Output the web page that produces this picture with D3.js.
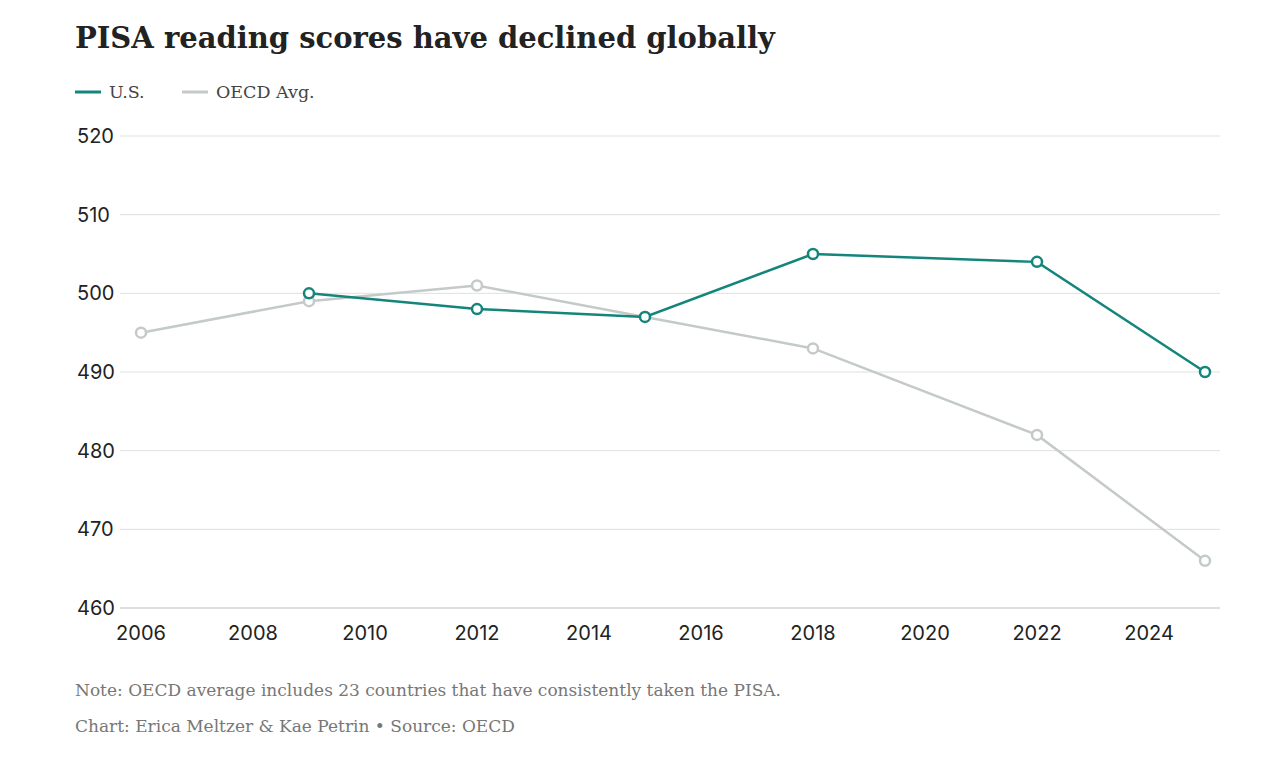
<!DOCTYPE html>
<html><head><meta charset="utf-8">
<script src="https://cdn.jsdelivr.net/npm/d3@7"></script>
<style>body{margin:0;background:#fff}</style></head>
<body><svg id="c" width="1280" height="760"></svg>
<script>
const usYears=[2009,2012,2015,2018,2022,2025];
const usValues=[500,498,497,505,504,490];
const oecdYears=[2006,2009,2012,2015,2018,2022,2025];
const oecdValues=[495,499,501,497,493,482,466];
const xTicks=[2006,2008,2010,2012,2014,2016,2018,2020,2022,2024];
const yTicks=[460,470,480,490,500,510,520];
const teal="#14857b", grey="#c4cac8";
const svg=d3.select("#c");
const x=d3.scaleLinear().domain([2006,2025]).range([141,1205]);
const y=d3.scaleLinear().domain([460,520]).range([608,136]);
const serif="'DejaVu Serif',serif", sans="Inter,Lato,sans-serif";
svg.append("text").attr("x",75).attr("y",48).attr("font-family",serif).attr("font-weight","bold").attr("font-size",29).attr("fill","#222").text("PISA reading scores have declined globally");
const lg=[["U.S.",teal,75],["OECD Avg.",grey,182]];
lg.forEach(([t,c,lx])=>{svg.append("line").attr("x1",lx).attr("x2",lx+26).attr("y1",92).attr("y2",92).attr("stroke",c).attr("stroke-width",3);
svg.append("text").attr("x",lx+34).attr("y",98).attr("font-family",serif).attr("font-size",17.5).attr("fill","#444").text(t);});
yTicks.forEach(v=>{
 svg.append("line").attr("x1",120).attr("x2",1220).attr("y1",y(v)).attr("y2",y(v)).attr("stroke",v===460?"#bbb":"#e0e0e0").attr("stroke-width",1);
 svg.append("text").attr("x",77).attr("y",y(v)+7).attr("font-family",sans).attr("font-size",20).attr("fill","#222").text(v);
});
xTicks.forEach(v=>svg.append("text").attr("x",x(v)).attr("y",640).attr("text-anchor","middle").attr("font-family",sans).attr("font-size",20).attr("fill","#222").text(v));
const line=d3.line().x(d=>x(d[0])).y(d=>y(d[1]));
function series(yrs,vals,c){
 const d=yrs.map((t,i)=>[t,vals[i]]);
 svg.append("path").attr("d",line(d)).attr("fill","none").attr("stroke",c).attr("stroke-width",2.5);
 svg.selectAll(null).data(d).enter().append("circle").attr("cx",d=>x(d[0])).attr("cy",d=>y(d[1])).attr("r",5).attr("fill","#fff").attr("stroke",c).attr("stroke-width",2.5);
}
series(oecdYears,oecdValues,grey);
series(usYears,usValues,teal);
svg.append("text").attr("x",75).attr("y",696).attr("font-family",serif).attr("font-size",17).attr("fill","#777").text("Note: OECD average includes 23 countries that have consistently taken the PISA.");
svg.append("text").attr("x",75).attr("y",732).attr("font-family",serif).attr("font-size",17).attr("fill","#777").text("Chart: Erica Meltzer & Kae Petrin • Source: OECD");
</script></body></html>
